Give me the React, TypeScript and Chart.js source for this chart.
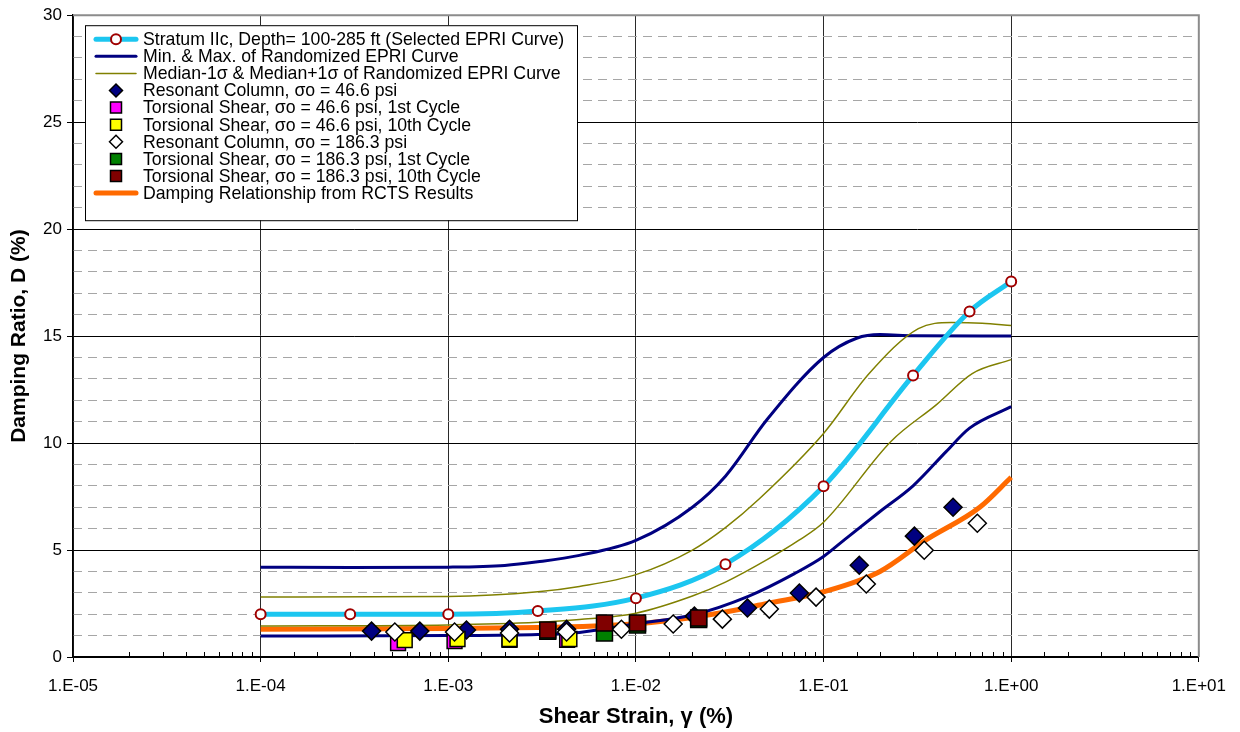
import { useEffect, useRef } from 'react';
import { Chart, registerables } from 'chart.js';

Chart.register(...registerables);

// ---------- DATA ----------
// Stratum IIc selected EPRI curve (with markers)
const epriX = [1e-4, 3e-4, 1e-3, 3e-3, 1e-2, 3e-2, 1e-1, 3e-1, 6e-1, 1];
const epriY = [2.0, 2.0, 2.0, 2.15, 2.75, 4.34, 7.98, 13.16, 16.15, 17.55];

// Min & Max of randomized EPRI curve
const maxX = [1e-4, 3e-4, 1e-3, 2e-3, 3e-3, 5e-3, 1e-2, 2e-2, 3e-2, 5e-2, 1e-1, 1.5e-1, 2e-1, 3e-1, 1];
const maxY = [4.2, 4.18, 4.2, 4.28, 4.45, 4.75, 5.45, 7.0, 8.45, 11.1, 14.0, 14.9, 15.07, 15.02, 15.0];
const minX = [1e-4, 1e-3, 3e-3, 5e-3, 1e-2, 2e-2, 4e-2, 7e-2, 1e-1, 1.3e-1, 2e-1, 3e-1, 4.5e-1, 6e-1, 1];
const minY = [0.98, 1.0, 1.05, 1.15, 1.55, 1.96, 2.85, 3.9, 4.7, 5.5, 6.8, 8.0, 9.6, 10.7, 11.7];

// Median-1σ & Median+1σ of randomized EPRI curve
const plusX = [1e-4, 1e-3, 3e-3, 5e-3, 1e-2, 2e-2, 3e-2, 4.55e-2, 1e-1, 1.75e-1, 3.2e-1, 4.8e-1, 7e-1, 1];
const plusY = [2.8, 2.83, 3.05, 3.3, 3.85, 5.0, 6.05, 7.4, 10.45, 13.25, 15.35, 15.63, 15.6, 15.5];
const minusX = [1e-4, 1e-3, 3e-3, 5e-3, 1e-2, 2e-2, 3e-2, 5e-2, 7.4e-2, 1e-1, 2.3e-1, 4e-1, 6.2e-1, 1];
const minusY = [1.45, 1.5, 1.62, 1.75, 2.05, 2.85, 3.5, 4.55, 5.46, 6.3, 10.1, 11.8, 13.25, 13.9];

// Damping relationship from RCTS results
const rctsX = [1e-4, 1e-3, 3e-3, 6e-3, 1e-2, 2e-2, 3e-2, 5e-2, 1e-1, 2e-1, 3.5e-1, 6.8e-1, 1];
const rctsY = [1.3, 1.33, 1.38, 1.45, 1.55, 1.85, 2.1, 2.5, 3.05, 4.0, 5.46, 7.0, 8.4];

// Resonant column, σo = 46.6 psi
const rc46X = [3.9e-4, 7.05e-4, 1.25e-3, 2.12e-3, 4.27e-3, 2.05e-2, 3.93e-2, 7.43e-2, 1.55e-1, 3.05e-1, 4.9e-1];
const rc46Y = [1.21, 1.21, 1.26, 1.3, 1.3, 1.91, 2.29, 2.99, 4.29, 5.65, 7.0];
// Torsional shear, σo = 46.6 psi, 1st cycle
const ts46aX = [5.4e-4, 1.08e-3, 2.12e-3, 4.3e-3];
const ts46aY = [0.65, 0.75, 0.8, 0.8];
// Torsional shear, σo = 46.6 psi, 10th cycle
const ts46jX = [5.86e-4, 1.12e-3, 2.12e-3, 4.42e-3];
const ts46jY = [0.79, 0.84, 0.84, 0.84];
// Resonant column, σo = 186.3 psi
const rc186X = [5.19e-4, 1.08e-3, 2.12e-3, 4.27e-3, 8.37e-3, 1.58e-2, 2.89e-2, 5.14e-2, 9.12e-2, 1.69e-1, 3.44e-1, 6.6e-1];
const rc186Y = [1.17, 1.17, 1.12, 1.17, 1.3, 1.54, 1.77, 2.24, 2.8, 3.41, 4.99, 6.25];
// Torsional shear, σo = 186.3 psi, 1st cycle
const ts186aX = [3.39e-3, 6.8e-3, 1.02e-2, 2.16e-2];
const ts186aY = [1.2, 1.12, 1.5, 1.75];
// Torsional shear, σo = 186.3 psi, 10th cycle
const ts186jX = [3.39e-3, 6.8e-3, 1.02e-2, 2.16e-2];
const ts186jY = [1.26, 1.59, 1.59, 1.82];

const legendLabels = [
  'Stratum IIc, Depth= 100-285 ft (Selected EPRI Curve)',
  'Min. & Max. of Randomized EPRI Curve',
  'Median-1σ & Median+1σ of Randomized EPRI Curve',
  'Resonant Column, σo = 46.6 psi',
  'Torsional Shear, σo = 46.6 psi, 1st Cycle',
  'Torsional Shear, σo = 46.6 psi, 10th Cycle',
  'Resonant Column, σo = 186.3 psi',
  'Torsional Shear, σo = 186.3 psi, 1st Cycle',
  'Torsional Shear, σo = 186.3 psi, 10th Cycle',
  'Damping Relationship from RCTS Results',
];

const yTicks = [0, 5, 10, 15, 20, 25, 30];

// ---------- STYLE ----------
const FONT = '"Liberation Sans", Arial, sans-serif';
const CYAN = '#1CC6F0';
const NAVY = '#000080';
const OLIVE = '#808000';
const ORANGE = '#FF6A00';
const CIRCLE_EDGE = '#A00000';

const zip = (xs: number[], ys: number[]) => xs.map((x, i) => ({ x, y: ys[i] }));

const isDecade = (v: number) => {
  const l = Math.log10(v);
  return Math.abs(l - Math.round(l)) < 1e-9;
};

const fmtDecade = (v: number) => {
  const e = Math.round(Math.log10(v));
  return '1.E' + (e < 0 ? '-' : '+') + String(Math.abs(e)).padStart(2, '0');
};

type LegendItem =
  | { kind: 'line'; color: string; width: number; marker?: boolean }
  | { kind: 'marker'; shape: 'diamond' | 'square'; fill: string };

const legendItems: LegendItem[] = [
  { kind: 'line', color: CYAN, width: 5, marker: true },
  { kind: 'line', color: NAVY, width: 3 },
  { kind: 'line', color: OLIVE, width: 1.5 },
  { kind: 'marker', shape: 'diamond', fill: NAVY },
  { kind: 'marker', shape: 'square', fill: '#FF00FF' },
  { kind: 'marker', shape: 'square', fill: '#FFFF00' },
  { kind: 'marker', shape: 'diamond', fill: '#FFFFFF' },
  { kind: 'marker', shape: 'square', fill: '#008000' },
  { kind: 'marker', shape: 'square', fill: '#800000' },
  { kind: 'line', color: ORANGE, width: 5 },
];

const framePlugin = {
  id: 'frameAndTicks',
  afterDatasetsDraw(chart: any) {
    const { ctx, chartArea: ca } = chart;
    const xs = chart.scales.x;
    ctx.save();
    // minor ticks pointing inward on x axis
    ctx.strokeStyle = '#000';
    ctx.lineWidth = 1;
    xs.ticks.forEach((t: any) => {
      if (isDecade(t.value)) return;
      const px = Math.round(xs.getPixelForValue(t.value)) + 0.5;
      ctx.beginPath();
      ctx.moveTo(px, ca.bottom);
      ctx.lineTo(px, ca.bottom - 5);
      ctx.stroke();
    });
    // gray top / right frame
    ctx.strokeStyle = '#8C8C8C';
    ctx.lineWidth = 2;
    ctx.beginPath();
    ctx.moveTo(ca.left, ca.top);
    ctx.lineTo(ca.right, ca.top);
    ctx.lineTo(ca.right, ca.bottom);
    ctx.stroke();
    ctx.restore();
  },
  afterDraw(chart: any) {
    const { ctx, chartArea: ca } = chart;
    const left = ca.left + 12;
    const top = ca.top + 10;
    const w = 492;
    const h = 195;
    ctx.save();
    ctx.fillStyle = '#fff';
    ctx.fillRect(left, top, w, h);
    ctx.strokeStyle = '#000';
    ctx.lineWidth = 1;
    ctx.strokeRect(left + 0.5, top + 0.5, w, h);
    ctx.font = '17.7px ' + FONT;
    ctx.textBaseline = 'middle';
    ctx.fillStyle = '#000';
    const sx0 = left + 11;
    const sx1 = left + 51;
    const sxc = left + 31;
    legendItems.forEach((it, i) => {
      const y = top + 14 + i * 17.1;
      if (it.kind === 'line') {
        ctx.strokeStyle = it.color;
        ctx.lineWidth = it.width;
        ctx.lineCap = 'round';
        ctx.beginPath();
        ctx.moveTo(sx0, y);
        ctx.lineTo(sx1, y);
        ctx.stroke();
        if (it.marker) {
          ctx.beginPath();
          ctx.arc(sxc, y, 5, 0, Math.PI * 2);
          ctx.fillStyle = '#fff';
          ctx.fill();
          ctx.strokeStyle = CIRCLE_EDGE;
          ctx.lineWidth = 2;
          ctx.stroke();
        }
      } else {
        ctx.fillStyle = it.fill;
        ctx.strokeStyle = '#000';
        ctx.lineWidth = 1.5;
        ctx.beginPath();
        if (it.shape === 'diamond') {
          const r = 6.5;
          ctx.moveTo(sxc - r, y);
          ctx.lineTo(sxc, y - r);
          ctx.lineTo(sxc + r, y);
          ctx.lineTo(sxc, y + r);
          ctx.closePath();
        } else {
          ctx.rect(sxc - 5.5, y - 5.5, 11, 11);
        }
        ctx.fill();
        ctx.stroke();
      }
      ctx.fillStyle = '#000';
      ctx.fillText(legendLabels[i], left + 58, y + 1);
    });
    ctx.restore();
  },
};

export default function App() {
  const ref = useRef<HTMLCanvasElement | null>(null);

  useEffect(() => {
    if (!ref.current) return;
    Chart.defaults.font.family = FONT;
    Chart.defaults.color = '#000';

    const lineDs = (label: string, data: any[], color: string, width: number, order: number) => ({
      label,
      data,
      showLine: true,
      borderColor: color,
      backgroundColor: color,
      borderWidth: width,
      pointRadius: 0,
      pointHoverRadius: 0,
      cubicInterpolationMode: 'monotone',
      tension: 0.4,
      fill: false,
      order,
    });
    const markDs = (
      label: string,
      data: any[],
      style: string,
      radius: number,
      fill: string,
      order: number,
    ) => ({
      label,
      data,
      showLine: false,
      pointStyle: style,
      pointRadius: radius,
      pointHoverRadius: radius,
      pointBackgroundColor: fill,
      pointBorderColor: '#000',
      pointBorderWidth: 1.5,
      order,
    });

    const chart = new Chart(ref.current, {
      type: 'scatter',
      data: {
        datasets: [
          markDs(legendLabels[8], zip(ts186jX, ts186jY), 'rect', 11.3, '#800000', 1),
          markDs(legendLabels[7], zip(ts186aX, ts186aY), 'rect', 11.3, '#008000', 2),
          markDs(legendLabels[6], zip(rc186X, rc186Y), 'rectRot', 9, '#FFFFFF', 3),
          markDs(legendLabels[5], zip(ts46jX, ts46jY), 'rect', 10.5, '#FFFF00', 4),
          markDs(legendLabels[4], zip(ts46aX, ts46aY), 'rect', 10.5, '#FF00FF', 5),
          markDs(legendLabels[3], zip(rc46X, rc46Y), 'rectRot', 9, NAVY, 6),
          {
            ...lineDs(legendLabels[0], zip(epriX, epriY), CYAN, 5, 10),
            pointRadius: 5,
            pointHoverRadius: 5,
            pointStyle: 'circle',
            pointBackgroundColor: '#fff',
            pointBorderColor: CIRCLE_EDGE,
            pointBorderWidth: 2,
          },
          lineDs(legendLabels[2], zip(plusX, plusY), OLIVE, 1.5, 11),
          lineDs(legendLabels[2], zip(minusX, minusY), OLIVE, 1.5, 11),
          lineDs(legendLabels[1], zip(maxX, maxY), NAVY, 3, 12),
          lineDs(legendLabels[1], zip(minX, minY), NAVY, 3, 12),
          lineDs(legendLabels[9], zip(rctsX, rctsY), ORANGE, 5, 13),
        ] as any,
      },
      options: {
        animation: false,
        responsive: true,
        maintainAspectRatio: false,
        layout: { padding: { left: 0, right: 40, top: 14, bottom: 0 } },
        plugins: { legend: { display: false }, tooltip: { enabled: false } },
        events: [],
        scales: {
          x: {
            type: 'logarithmic',
            position: 'bottom',
            min: 1e-5,
            max: 10,
            afterFit: (s: any) => {
              s.height = 75;
            },
            ticks: {
              autoSkip: false,
              maxRotation: 0,
              minRotation: 0,
              padding: 14,
              color: '#000',
              font: { size: 17, family: FONT },
              callback: (v: any) => (isDecade(Number(v)) ? fmtDecade(Number(v)) : ''),
            },
            grid: {
              color: (c: any) => (c.tick && isDecade(c.tick.value) ? '#2A2A2A' : 'rgba(0,0,0,0)'),
              tickColor: (c: any) => (c.tick && isDecade(c.tick.value) ? '#000' : 'rgba(0,0,0,0)'),
              tickLength: 5,
              lineWidth: 1,
            },
            border: { color: '#000', width: 1.5 },
            title: {
              display: true,
              text: 'Shear Strain, γ (%)',
              color: '#000',
              font: { size: 22, weight: 'bold', family: FONT },
              padding: { top: 0, bottom: 2 },
            },
          },
          y: {
            type: 'linear',
            position: 'left',
            min: 0,
            max: 30,
            afterFit: (s: any) => {
              s.width = 73;
            },
            afterBuildTicks: (s: any) => {
              s.ticks = yTicks.map((v) => ({ value: v }));
            },
            ticks: {
              padding: 5,
              color: '#000',
              font: { size: 17, family: FONT },
            },
            grid: {
              color: (c: any) => (c.tick && c.tick.value === 30 ? '#8C8C8C' : '#000'),
              tickColor: '#000',
              tickLength: 6,
              lineWidth: 1,
            },
            border: { color: '#000', width: 1.5 },
            title: {
              display: true,
              text: 'Damping Ratio, D (%)',
              color: '#000',
              font: { size: 21, weight: 'bold', family: FONT },
              padding: { top: 7, bottom: 0 },
            },
          },
          y2: {
            type: 'linear',
            axis: 'y',
            position: 'left',
            min: 0,
            max: 30,
            afterFit: (s: any) => {
              s.width = 0;
            },
            ticks: { display: false, stepSize: 1 },
            grid: {
              color: (c: any) => (c.tick && c.tick.value % 5 === 0 ? 'rgba(0,0,0,0)' : '#A6A6A6'),
              drawTicks: false,
              lineWidth: 1,
            },
            border: { display: false, dash: [9, 6] },
          },
        },
      } as any,
      plugins: [framePlugin],
    });
    return () => chart.destroy();
  }, []);

  return (
    <div style={{ position: 'fixed', left: 0, top: 0, width: 1240, height: 732, background: '#fff' }}>
      <canvas ref={ref} />
    </div>
  );
}
